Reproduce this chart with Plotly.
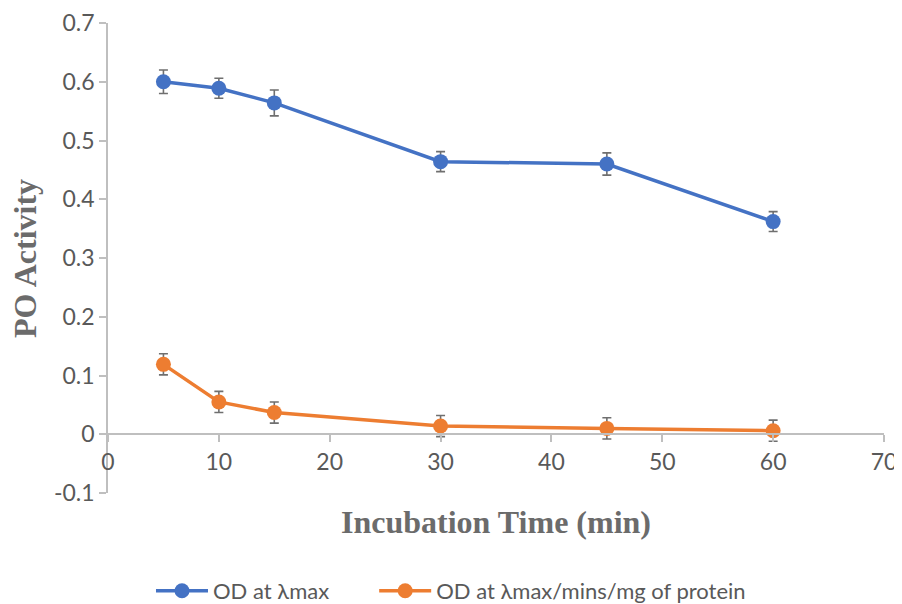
import plotly.graph_objects as go

time_min = [5, 10, 15, 30, 45, 60]
od_lmax = [0.600, 0.589, 0.564, 0.464, 0.460, 0.362]
od_lmax_err = [0.020, 0.017, 0.022, 0.017, 0.019, 0.017]
od_norm = [0.119, 0.055, 0.037, 0.014, 0.010, 0.006]
od_norm_err = [0.018, 0.018, 0.018, 0.018, 0.018, 0.018]

series_names = ["OD at λmax", "OD at λmax/mins/mg of protein"]
colors = ["#4472C4", "#ED7D31"]
x_ticks = [0, 10, 20, 30, 40, 50, 60, 70]
y_ticks = [-0.1, 0, 0.1, 0.2, 0.3, 0.4, 0.5, 0.6, 0.7]

fig = go.Figure()
for name, ys, errs, c, lg in [
    (series_names[0], od_lmax, od_lmax_err, colors[0], "legend"),
    (series_names[1], od_norm, od_norm_err, colors[1], "legend2"),
]:
    fig.add_trace(go.Scatter(
        x=time_min, y=ys, name=name, mode="lines+markers",
        line=dict(color=c, width=3.5),
        marker=dict(color=c, size=15),
        error_y=dict(type="data", array=errs, visible=True,
                     color="#6f6f6f", thickness=1.6, width=4.5),
        legend=lg,
    ))

tick_font = dict(family="Lato, Open Sans, sans-serif", size=23, color="#595959")
title_font = dict(family="Liberation Serif, Times New Roman, serif", size=32, color="#6b6b6b")
legend_font = dict(family="Lato, Open Sans, sans-serif", size=22, color="#595959")

fig.update_layout(
    width=894, height=596,
    margin=dict(l=100, r=18, t=15, b=111),
    plot_bgcolor="white", paper_bgcolor="white",
    showlegend=True,
    legend=dict(orientation="h", x=0.0554, xanchor="left",
                yref="container", y=0.022, yanchor="middle",
                font=legend_font, itemwidth=52),
    legend2=dict(orientation="h", x=0.343, xanchor="left",
                 yref="container", y=0.022, yanchor="middle",
                 font=legend_font, itemwidth=52),
    xaxis=dict(range=[0, 70], tickvals=x_ticks, showgrid=False, zeroline=False,
               showline=True, linecolor="#bfbfbf", linewidth=1.5,
               ticks="outside", ticklen=7, tickcolor="#bfbfbf", tickwidth=1.5,
               tickfont=tick_font, anchor="free", position=0.125, automargin=False),
    yaxis=dict(range=[-0.1, 0.7], tickvals=y_ticks,
               ticktext=[("%g" % v) for v in y_ticks],
               showgrid=False, zeroline=False,
               showline=True, linecolor="#bfbfbf", linewidth=1.5,
               ticks="outside", ticklen=7, tickcolor="#bfbfbf", tickwidth=1.5,
               tickfont=tick_font, automargin=False),
)

fig.add_annotation(text="<b>Incubation Time (min)</b>", xref="paper", yref="paper",
                   x=0.5, y=-0.062, xanchor="center", yanchor="middle", showarrow=False,
                   font=title_font)
fig.add_annotation(text="<b>PO Activity</b>", xref="paper", yref="paper",
                   x=-0.107, y=0.5, xanchor="center", yanchor="middle", showarrow=False,
                   textangle=-90, font=title_font)

fig.write_html("out.html")
